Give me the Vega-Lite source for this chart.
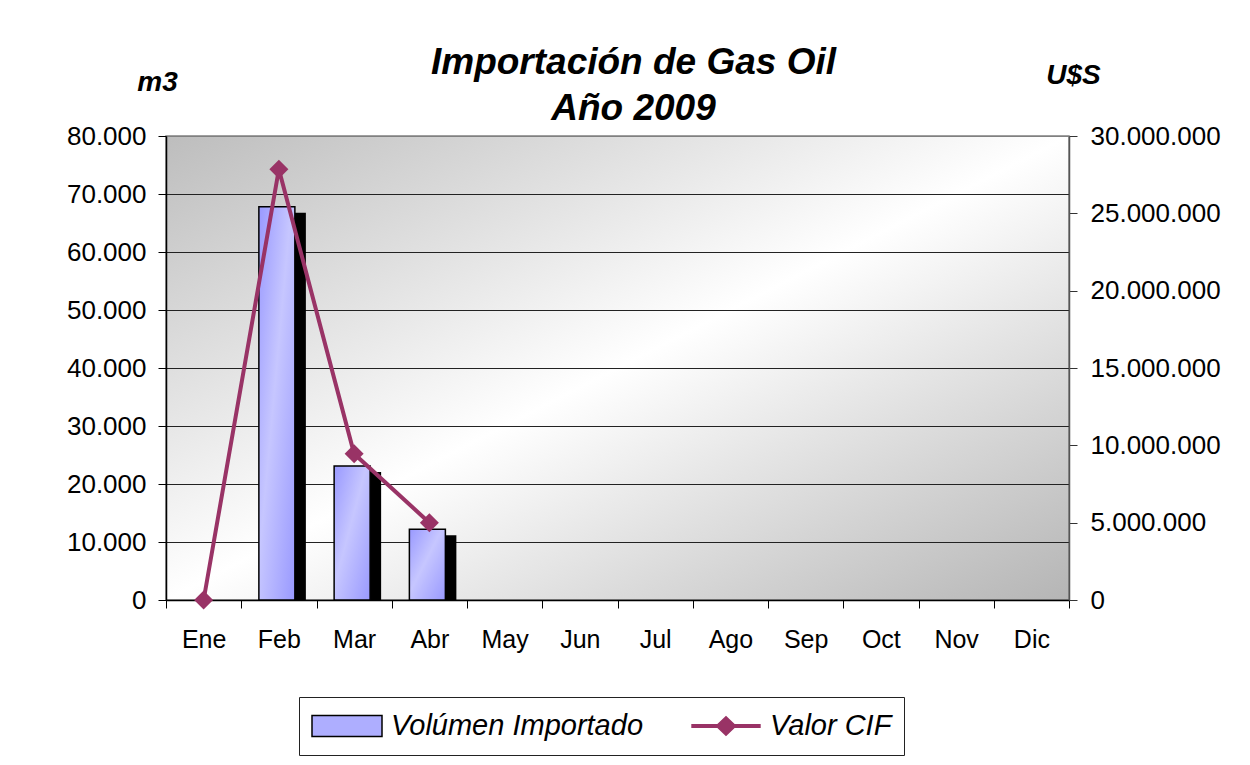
{
  "$schema": "https://vega.github.io/schema/vega-lite/v6.json",
  "width": 903,
  "height": 464,
  "autosize": "none",
  "padding": {"left": 166, "top": 136, "right": 181, "bottom": 165},
  "background": "white",
  "config": {
    "font": "Liberation Sans",
    "locale": {"number": {"decimal": ",", "thousands": ".", "grouping": [3], "currency": ["$", ""]}},
    "view": {
      "stroke": "#808080",
      "strokeWidth": 1.5,
      "fill": {"gradient": "linear", "x1": 0, "y1": 0, "x2": 1, "y2": 1,
        "stops": [{"offset": 0, "color": "#bdbdbd"}, {"offset": 0.5, "color": "#ffffff"}, {"offset": 1, "color": "#b5b5b5"}]}
    },
    "legend": {
      "title": null,
      "orient": "none",
      "legendX": 133,
      "legendY": 561,
      "direction": "horizontal",
      "padding": 12,
      "columnPadding": 46,
      "labelOffset": 8,
      "labelLimit": 500,
      "labelFont": "Liberation Sans",
      "labelFontSize": 29,
      "labelFontStyle": "italic",
      "labelColor": "black",
      "strokeColor": "#222222",
      "fillColor": "white",
      "symbolSize": 4900,
      "symbolStrokeWidth": 1.5,
      "clipHeight": 34
    }
  },
  "title": {
    "text": ["Importación de Gas Oil", "Año 2009"],
    "font": "Liberation Sans",
    "fontSize": 37,
    "fontStyle": "italic",
    "fontWeight": "bold",
    "color": "black",
    "lineHeight": 46,
    "anchor": "middle",
    "frame": "group",
    "baseline": "bottom",
    "dx": 16,
    "offset": -104
  },
  "data": {
    "values": [
      {"mes": "Ene", "volumen": 0, "valor": 0},
      {"mes": "Feb", "volumen": 67800, "valor": 27850000},
      {"mes": "Mar", "volumen": 23100, "valor": 9450000},
      {"mes": "Abr", "volumen": 12200, "valor": 5000000},
      {"mes": "May", "volumen": null, "valor": null},
      {"mes": "Jun", "volumen": null, "valor": null},
      {"mes": "Jul", "volumen": null, "valor": null},
      {"mes": "Ago", "volumen": null, "valor": null},
      {"mes": "Sep", "volumen": null, "valor": null},
      {"mes": "Oct", "volumen": null, "valor": null},
      {"mes": "Nov", "volumen": null, "valor": null},
      {"mes": "Dic", "volumen": null, "valor": null}
    ]
  },
  "encoding": {
    "x": {
      "field": "mes",
      "type": "nominal",
      "sort": null,
      "scale": {"domain": ["Ene", "Feb", "Mar", "Abr", "May", "Jun", "Jul", "Ago", "Sep", "Oct", "Nov", "Dic"], "paddingInner": 0, "paddingOuter": 0},
      "axis": {
        "title": null,
        "labelAngle": 0,
        "labelFontSize": 25,
        "labelColor": "black",
        "labelPadding": 19,
        "tickColor": "black",
        "tickSize": 8,
        "tickBand": "extent",
        "domainColor": "black",
        "domainWidth": 1.5
      }
    }
  },
  "layer": [
    {
      "layer": [
        {
          "transform": [{"filter": "datum.volumen > 0"}],
          "mark": {"type": "bar", "fill": "black", "width": 36, "xOffset": 9, "yOffset": 6, "y2Offset": 0},
          "encoding": {
            "y": {
              "field": "volumen",
              "type": "quantitative",
              "scale": {"domain": [0, 80000]},
              "axis": {
                "orient": "left",
                "title": "m3",
                "titleAngle": 0,
                "titleAlign": "center",
                "titleBaseline": "middle",
                "titleX": -9,
                "titleY": -54,
                "titleFontSize": 28,
                "titleFontStyle": "italic",
                "titleFontWeight": "bold",
                "titleColor": "black",
                "values": [0, 10000, 20000, 30000, 40000, 50000, 60000, 70000, 80000],
                "labelFontSize": 26,
                "labelColor": "black",
                "labelPadding": 12,
                "tickSize": 8,
                "tickColor": "black",
                "domainColor": "black",
                "domainWidth": 1.5,
                "grid": true,
                "gridColor": {"condition": {"test": "datum.value === 80000", "value": "#808080"}, "value": "#222222"},
                "gridWidth": 1
              }
            },
            "y2": {"datum": 0}
          }
        },
        {
          "transform": [{"filter": "datum.volumen > 0"}],
          "mark": {
            "type": "bar",
            "width": 36,
            "xOffset": -2,
            "stroke": "black",
            "strokeWidth": 1.5,
            "fill": {"gradient": "linear", "x1": 0, "y1": 0, "x2": 1, "y2": 1,
              "stops": [{"offset": 0, "color": "#9999ff"}, {"offset": 0.45, "color": "#c6c6ff"}, {"offset": 1, "color": "#9999ff"}]}
          },
          "encoding": {
            "y": {"field": "volumen", "type": "quantitative", "scale": {"domain": [0, 80000]}}
          }
        }
      ]
    },
    {
      "transform": [{"filter": "isValid(datum.valor)"}],
      "encoding": {
        "y": {
          "field": "valor",
          "type": "quantitative",
          "scale": {"domain": [0, 30000000]},
          "axis": {
            "orient": "right",
            "title": "U$S",
            "titleAngle": 0,
            "titleAlign": "center",
            "titleBaseline": "middle",
            "titleX": 4,
            "titleY": -61,
            "titleFontSize": 28,
            "titleFontStyle": "italic",
            "titleFontWeight": "bold",
            "titleColor": "black",
            "values": [0, 5000000, 10000000, 15000000, 20000000, 25000000, 30000000],
            "labelFontSize": 26,
            "labelColor": "black",
            "labelPadding": 13,
            "tickSize": 8,
            "tickColor": "#333333",
            "domainColor": "#555555",
            "domainWidth": 1.5,
            "grid": false
          }
        }
      },
      "layer": [
        {
          "mark": {"type": "line", "strokeWidth": 4},
          "encoding": {
            "stroke": {
              "datum": "Valor CIF",
              "type": "nominal",
              "scale": {"domain": ["Volúmen Importado", "Valor CIF"], "range": ["black", "#993366"]},
              "legend": {
                "encode": {
                  "symbols": {
                    "update": {
                      "size": {"value": 4900},
                      "strokeWidth": {"value": 1.5},
                      "shape": {"signal": "datum.value === 'Valor CIF' ? 'M-0.97,-0.035H-0.24L0,-0.26L0.24,-0.035H0.97V0.035H0.24L0,0.26L-0.24,0.035H-0.97Z' : 'M-1,-0.3H1V0.3H-1Z'"},
                      "opacity": {"value": 1}
                    }
                  }
                }
              }
            }
          }
        },
        {
          "mark": {"type": "point", "shape": "diamond", "size": 360, "filled": true, "opacity": 1, "strokeWidth": 0},
          "encoding": {
            "fill": {
              "datum": "Valor CIF",
              "type": "nominal",
              "scale": {"domain": ["Volúmen Importado", "Valor CIF"], "range": ["#aeaeff", "#993366"]},
              "legend": {
                "encode": {
                  "symbols": {
                    "update": {
                      "size": {"value": 4900},
                      "strokeWidth": {"value": 1.5},
                      "shape": {"signal": "datum.value === 'Valor CIF' ? 'M-0.97,-0.035H-0.24L0,-0.26L0.24,-0.035H0.97V0.035H0.24L0,0.26L-0.24,0.035H-0.97Z' : 'M-1,-0.3H1V0.3H-1Z'"},
                      "opacity": {"value": 1}
                    }
                  }
                }
              }
            }
          }
        }
      ]
    }
  ],
  "resolve": {"scale": {"y": "independent"}}
}
